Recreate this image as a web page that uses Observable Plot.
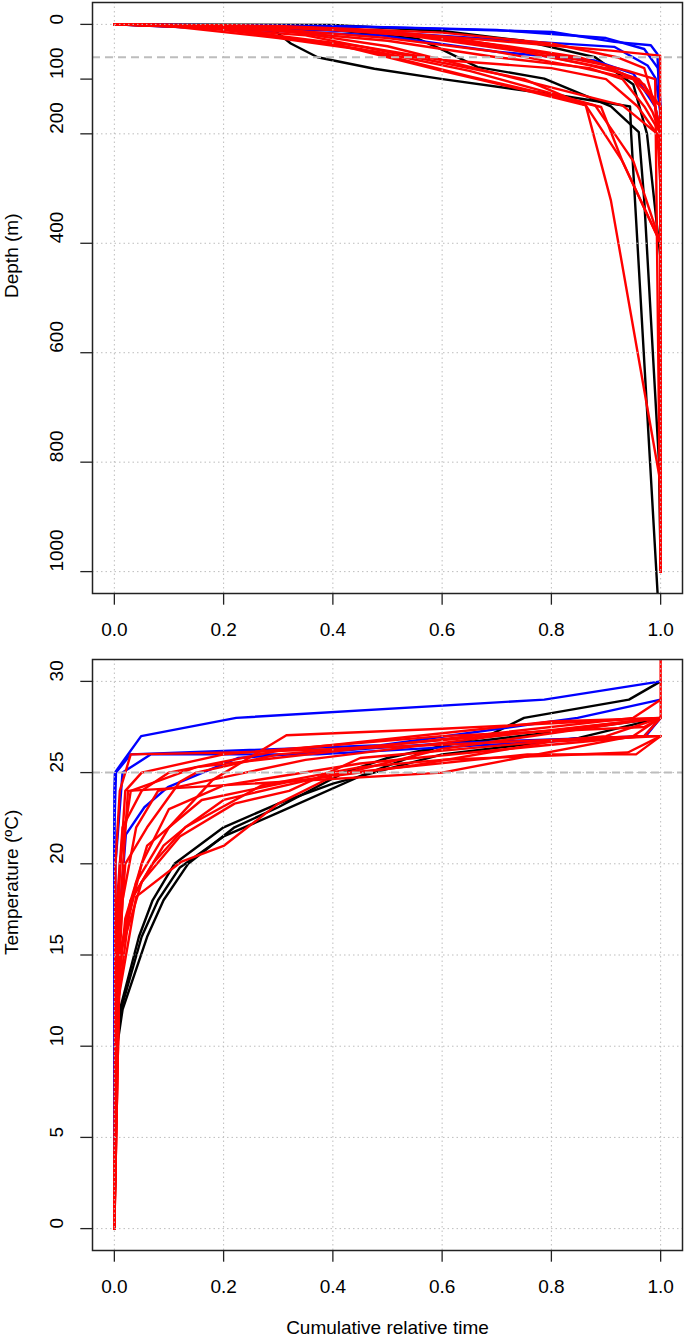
<!DOCTYPE html>
<html><head><meta charset="utf-8">
<script src="https://cdn.jsdelivr.net/npm/d3@7"></script>
<script src="https://cdn.jsdelivr.net/npm/@observablehq/plot@0.6"></script>
<style>
html,body{margin:0;padding:0;background:#fff;}
#chart svg{display:block;}
</style></head><body><div id="chart"></div>
<script>
// ---- axis ticks ----
const xTicks = [0, 0.2, 0.4, 0.6, 0.8, 1.0];
const depthTicks = [0, 100, 200, 400, 600, 800, 1000];
const depthGrid = [0, 200, 400, 600, 800, 1000];
const tempTicks = [0, 5, 10, 15, 20, 25, 30];
const depthRef = 60;
const tempRef = 25;

// ---- depth profiles: [cumulative relative time, depth (m)] ----
const depthBlack1 = [[0,0],[0.293,11],[0.323,35],[0.372,60],[0.476,81],[0.601,100],[0.817,130],[0.944,150],[0.946,200],[0.995,1050]];
const depthBlack2 = [[0,0],[0.35,5],[0.555,26],[0.604,48],[0.665,78],[0.787,99],[0.909,150],[0.960,197],[0.970,322],[0.997,800],[1,1000]];
const depthBlack3 = [[0,0],[0.4,1],[0.6,12],[0.75,30],[0.88,60],[0.95,110],[0.975,200],[1,430],[1,1000]];
const depthBlue1 = [[0,0],[0.488,5],[0.802,14],[0.915,32],[0.982,38],[0.994,54],[0.999,157],[1,1000]];
const depthBlue2 = [[0,0],[0.488,14],[0.915,41],[0.976,75],[0.991,99],[0.999,157],[1,1000]];
const depthBlue3 = [[0,0],[0.488,20],[0.7,50],[0.878,66],[0.95,90],[0.99,150],[1,200],[1,1000]];
const depthBlue4 = [[0,0],[0.4,3],[0.7,10],[0.9,25],[0.97,45],[0.995,80],[1,150],[1,1000]];
const depthRed1 = [[0,0],[0.2,2],[0.45,10],[0.7,30],[0.909,48],[0.999,57],[1,1000]];
const depthRed2 = [[0,0],[0.3,3],[0.6,15],[0.8,35],[0.92,60],[0.97,80],[0.99,150],[1,200],[1,1000]];
const depthRed3 = [[0,0],[0.25,5],[0.5,25],[0.7,50],[0.85,78],[0.95,100],[0.985,160],[1,200],[1,1000]];
const depthRed4 = [[0,0],[0.07,1],[0.3,12],[0.5,30],[0.7,60],[0.87,80],[0.93,100],[0.97,150],[1,200],[1,1000]];
const depthRed5 = [[0,0],[0.2,8],[0.45,40],[0.6,65],[0.8,80],[0.9,100],[0.958,150],[1,210],[1,1000]];
const depthRed6 = [[0,0],[0.1,2],[0.35,20],[0.55,60],[0.75,100],[0.863,148],[0.909,322],[0.997,822],[1,850]];
const depthRed7 = [[0,0],[0.15,4],[0.4,35],[0.6,85],[0.75,120],[0.863,148],[0.93,250],[1,400],[1,1000]];
const depthRed8 = [[0,0],[0.2,6],[0.45,45],[0.65,95],[0.891,151],[0.93,250],[1,400],[1,1000]];
const depthRed9 = [[0,0],[0.3,10],[0.5,40],[0.7,90],[0.93,148],[0.994,200],[1,300],[1,1000]];
const depthRed10 = [[0,0],[0.35,6],[0.6,25],[0.75,50],[0.87,75],[0.93,90],[0.97,110],[0.99,150],[1,200],[1,1000]];
const depthRed11 = [[0,0],[0.4,8],[0.65,30],[0.8,55],[0.9,75],[0.95,100],[1,150],[1,1000]];
const depthRed12 = [[0,0],[0.3,4],[0.55,18],[0.72,40],[0.85,60],[0.9,75],[0.94,85],[0.99,100],[1,1000]];
const depthRed13 = [[0,0],[0.25,3],[0.5,15],[0.75,50],[0.9,80],[0.96,100],[1,150],[1,1000]];
const depthRed14 = [[0,0],[0.1,3],[0.3,25],[0.48,50],[0.65,85],[0.88,148],[0.95,250],[1,400],[1,1000]];

// ---- temperature profiles: [cumulative relative time, temperature (ºC)] ----
const tempBlack1 = [[0,0],[0.004,10],[0.01,12],[0.045,16],[0.07,18],[0.11,20],[0.2,22],[0.3,23.3],[0.4,24.4],[0.6,26],[0.85,26.9],[1,28]];
const tempBlack2 = [[0,0],[0.005,10],[0.015,12],[0.06,16],[0.09,18],[0.135,20],[0.22,22],[0.3,23.1],[0.42,25],[0.5,25.8],[0.683,27],[0.75,28],[0.942,29],[1,30]];
const tempBlack3 = [[0,0],[0.004,10],[0.012,12],[0.05,16],[0.08,18],[0.12,19.8],[0.2,21.5],[0.3,22.8],[0.45,24.8],[0.6,26.5],[0.8,27.2],[1,28]];
const tempBlue1 = [[0,0],[0,24],[0.001,25],[0.049,27],[0.223,28],[0.787,29],[1,30]];
const tempBlue2 = [[0,0],[0,22],[0.003,25],[0.03,26],[0.488,26.5],[0.848,28],[1,29]];
const tempBlue3 = [[0,0],[0.002,20],[0.015,25],[0.067,26],[0.372,26],[0.97,27],[1,28]];
const tempBlue4 = [[0,0],[0.004,15],[0.021,21.6],[0.055,23.1],[0.098,24.2],[0.226,25.8],[0.6,26.6],[0.973,27],[1,28]];
const tempRed1 = [[0,0],[0.002,12],[0.005,17],[0.02,24],[0.05,25],[0.2,26],[0.6,27],[0.97,27.5],[1,28],[1,32.5]];
const tempRed2 = [[0,0],[0.005,15],[0.01,20],[0.03,24],[0.15,25.3],[0.5,26.5],[0.95,28],[1,29]];
const tempRed3 = [[0,0],[0.005,12],[0.015,18],[0.04,22],[0.08,24],[0.13,24.3],[0.35,25.7],[0.7,27],[1,28]];
const tempRed4 = [[0,0],[0.008,15],[0.02,20],[0.06,22],[0.12,24.5],[0.15,25],[0.3,26],[0.8,27.3],[1,28]];
const tempRed5 = [[0,0],[0.01,15],[0.04,19],[0.1,22],[0.18,24.6],[0.315,27.05],[0.6,27.4],[1,28]];
const tempRed6 = [[0,0],[0.005,12],[0.03,18],[0.07,20],[0.13,22],[0.2,23.5],[0.4,24.9],[0.756,26],[0.955,26],[1,27]];
const tempRed7 = [[0,0],[0.01,15],[0.05,20],[0.1,23],[0.2,24.3],[0.45,25.5],[0.79,26.5],[0.97,27],[1,28]];
const tempRed8 = [[0,0],[0.004,12],[0.02,17],[0.06,21],[0.16,23.5],[0.32,24.5],[0.55,25.4],[0.8,26.7],[1,27]];
const tempRed9 = [[0,0],[0.005,15],[0.025,24],[0.6,25],[0.95,27],[1,28]];
const tempRed10 = [[0,0],[0.003,10],[0.01,15],[0.05,19],[0.12,21.5],[0.22,23.3],[0.32,24],[0.45,25.8],[0.9,27],[1,28]];
const tempRed11 = [[0,0],[0.005,18],[0.015,22],[0.05,24],[0.1,25],[0.3,26.2],[0.8,27.8],[1,28]];
const tempRed12 = [[0,0],[0.002,20],[0.01,24],[0.03,26],[0.22,26.1],[0.5,26.4],[0.96,27],[1,27]];
const tempRed13 = [[0,0],[0.01,15],[0.03,18],[0.09,21],[0.13,22],[0.27,24.3],[0.45,25.3],[0.6,25.7],[0.94,26.1],[1,27]];
const tempRed14 = [[0,0],[0.004,12],[0.04,18.2],[0.122,20.1],[0.201,21],[0.3,23.3],[0.4,24.8],[0.6,26.3],[0.95,27.8],[1,28]];

const groupColors = {black: "#000000", blue: "#0000ff", red: "#ff0000"};

const depthSeries = [
  ["black", [depthBlack1, depthBlack2, depthBlack3]],
  ["blue", [depthBlue1, depthBlue2, depthBlue3, depthBlue4]],
  ["red", [depthRed1, depthRed2, depthRed3, depthRed4, depthRed5, depthRed6, depthRed7, depthRed8, depthRed9, depthRed10, depthRed11, depthRed12, depthRed13, depthRed14]]
];
const tempSeries = [
  ["black", [tempBlack1, tempBlack2, tempBlack3]],
  ["blue", [tempBlue1, tempBlue2, tempBlue3, tempBlue4]],
  ["red", [tempRed1, tempRed2, tempRed3, tempRed4, tempRed5, tempRed6, tempRed7, tempRed8, tempRed9, tempRed10, tempRed11, tempRed12, tempRed13, tempRed14]]
];

function toRows(series) {
  const rows = [];
  series.forEach(([g, list]) => list.forEach((pts, i) => pts.forEach(([t, v]) => rows.push({id: g + i, g, t, v}))));
  return rows;
}
const depthRows = toRows(depthSeries);
const tempRows = toRows(tempSeries);

const FONT = "'Liberation Sans', Arial, Helvetica, sans-serif";
const FS = 19;
const TICK = 11.7;
const GRID = {stroke: "#bdbdbd", strokeOpacity: 1, strokeWidth: 1, strokeDasharray: "1.5,3"};

function lineMarks(rows) {
  return ["black", "blue", "red"].map(g =>
    Plot.line(rows.filter(r => r.g === g), {x: "t", y: "v", z: "id", stroke: groupColors[g], strokeWidth: 2.4, clip: true})
  );
}

function panel({rows, yDomain, reverse, yTicks, yGrid, ref, yTitle, height, marginTop, marginBottom, xTitle}) {
  return Plot.plot({
    width: 685, height, marginTop, marginBottom, marginLeft: 92, marginRight: 3,
    style: {fontFamily: FONT, fontSize: FS + "px", color: "#000", background: "#fff"},
    x: {domain: [-0.04, 1.04], label: null},
    y: {domain: yDomain, reverse, label: null},
    marks: [
      ...lineMarks(rows),
      Plot.gridX(xTicks, GRID),
      Plot.gridY(yGrid, GRID),
      Plot.ruleY([ref], {stroke: "#bdbdbd", strokeWidth: 2, strokeDasharray: "8,5"}),
      Plot.frame({stroke: "#222", strokeWidth: 1.5}),
      Plot.axisX(xTicks, {tickSize: TICK, tickPadding: 17.5, tickFormat: d3.format(".1f"), fontSize: FS, stroke: "#222", strokeWidth: 1.3, label: null}),
      Plot.axisY(yTicks, {tickSize: TICK, tickFormat: () => "", stroke: "#222", strokeWidth: 1.3, label: null}),
      Plot.text(yTicks, {y: d => d, text: d => String(d), frameAnchor: "left", dx: -36, rotate: -90, fontSize: FS, fill: "#000"}),
      Plot.text([yTitle], {text: d => d, frameAnchor: "left", dx: -81, rotate: -90, fontSize: FS, fill: "#000"}),
      ...(xTitle ? [Plot.text([xTitle], {text: d => d, frameAnchor: "bottom", dy: 83, fontSize: FS, fill: "#000"})] : [])
    ]
  });
}

const topChart = panel({
  rows: depthRows, yDomain: [-40, 1040], reverse: true,
  yTicks: depthTicks, yGrid: depthGrid, ref: depthRef, yTitle: "Depth (m)",
  height: 656, marginTop: 2, marginBottom: 63
});
const bottomChart = panel({
  rows: tempRows, yDomain: [-1.2, 31.2], reverse: false,
  yTicks: tempTicks, yGrid: tempTicks, ref: tempRef, yTitle: "Temperature (ºC)",
  height: 686, marginTop: 3, marginBottom: 92, xTitle: "Cumulative relative time"
});
document.getElementById("chart").append(topChart, bottomChart);
</script></body></html>
